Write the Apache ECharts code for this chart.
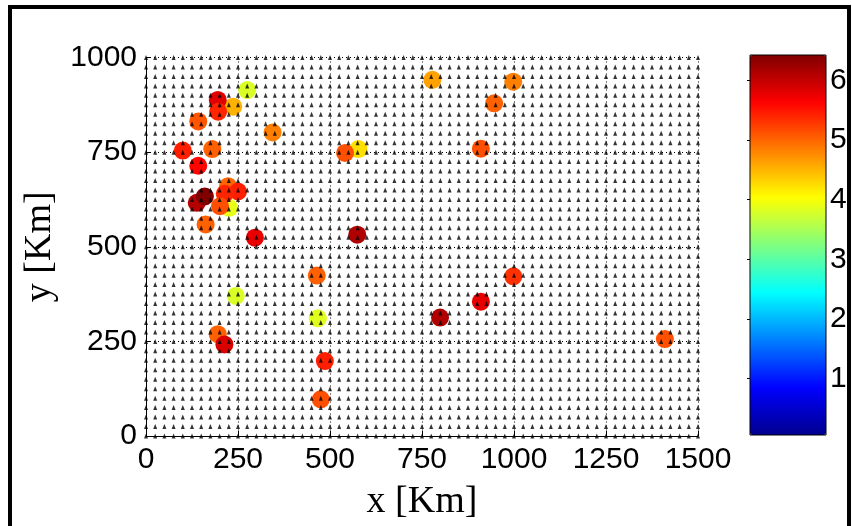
<!DOCTYPE html>
<html>
<head>
<meta charset="utf-8">
<script src="https://cdn.jsdelivr.net/npm/echarts@6/dist/echarts.min.js"></script>
<style>
html,body{margin:0;padding:0;background:#fff;}
#chart{width:852px;height:526px;}
</style>
</head>
<body>
<div id="chart"></div>
<script>
// Station positions (km) and magnitudes
const siteX = [778, 998, 946, 910, 998, 910, 799, 1410, 275, 237, 195, 196, 142, 344, 100, 180, 142, 577, 541, 226, 223, 250, 214, 201, 138, 160, 162, 296, 574, 464, 244, 467, 195, 213, 486, 475];
const siteY = [941, 936, 879, 759, 422, 355, 313, 256, 914, 870, 888, 857, 831, 802, 754, 758, 714, 758, 748, 603, 660, 646, 640, 607, 616, 633, 559, 524, 532, 424, 370, 311, 269, 242, 198, 97];
const siteMag = [4.63, 4.84, 5.03, 5.14, 5.33, 5.78, 6.13, 5.14, 3.8, 4.53, 5.83, 5.4, 5.1, 4.84, 5.44, 5.03, 5.6, 4.23, 5.14, 3.89, 5.0, 5.44, 5.4, 5.14, 6.1, 6.43, 5.03, 5.78, 6.13, 5.03, 3.8, 3.85, 5.03, 5.88, 5.44, 5.14];

// Regular mesh of grid nodes (km)
const meshX = []; for (let v = 0; v <= 1500; v += 25) meshX.push(v);
const meshY = []; for (let v = 0; v <= 1000; v += 25) meshY.push(v);

// Axis ticks
const xTicks = [0, 250, 500, 750, 1000, 1250, 1500];
const yTicks = [0, 250, 500, 750, 1000];
const cbarTicks = [1, 2, 3, 4, 5, 6];
const cbarMin = 0.05, cbarMax = 6.43;

const jet = ['#00008F', '#0000FF', '#0080FF', '#00FFFF', '#80FF80', '#FFFF00', '#FF8000', '#FF0000', '#800000'];

const siteData = siteX.map((x, i) => [x, siteY[i], siteMag[i]]);
const meshData = [];
meshY.forEach(y => meshX.forEach(x => meshData.push([x, y])));

const chart = echarts.init(document.getElementById('chart'), null, {renderer: 'canvas'});
const plain = v => String(v);
const tickFont = {color: '#000', fontSize: 30, fontFamily: '"Liberation Sans", Arial, sans-serif', formatter: plain};
const nameFont = {color: '#000', fontSize: 38, fontFamily: '"Liberation Serif", "Times New Roman", serif'};

chart.setOption({
  animation: false,
  backgroundColor: '#fff',
  graphic: [{
    type: 'rect', z: 100, silent: true,
    shape: {x: 10, y: 7, width: 839, height: 600},
    style: {fill: null, stroke: '#000', lineWidth: 4}
  }],
  grid: [
    {left: 146, top: 57.5, width: 552, height: 379.5},
    {left: 750, top: 55, width: 76, height: 380, show: true, borderColor: '#000', borderWidth: 1, backgroundColor: 'transparent', z: 10}
  ],
  xAxis: [
    {
      gridIndex: 0, type: 'value', min: xTicks[0], max: xTicks[xTicks.length - 1], interval: 250,
      axisLine: {show: true, onZero: false, lineStyle: {color: '#000', width: 1}},
      axisTick: {show: true, inside: true, length: 5, lineStyle: {color: '#000'}},
      axisLabel: Object.assign({margin: 9}, tickFont),
      splitLine: {show: true, lineStyle: {color: '#000', type: [1, 3], width: 1}},
      name: 'x [Km]', nameLocation: 'middle', nameGap: 47, nameTextStyle: nameFont
    },
    {gridIndex: 1, type: 'value', min: 0, max: 1, show: false}
  ],
  yAxis: [
    {
      gridIndex: 0, type: 'value', min: yTicks[0], max: yTicks[yTicks.length - 1], interval: 250,
      axisLine: {show: true, onZero: false, lineStyle: {color: '#000', width: 1}},
      axisTick: {show: true, inside: true, length: 5, lineStyle: {color: '#000'}},
      axisLabel: Object.assign({margin: 9}, tickFont),
      splitLine: {show: true, lineStyle: {color: '#000', type: [1, 3], width: 1}},
      name: 'y [Km]', nameLocation: 'middle', nameGap: 87, nameTextStyle: nameFont
    },
    {
      gridIndex: 1, type: 'value', position: 'right', min: cbarMin, max: cbarMax,
      axisLine: {show: false},
      axisTick: {show: true, inside: true, length: 3, customValues: cbarTicks, lineStyle: {color: '#000'}},
      axisLabel: Object.assign({margin: 4, customValues: cbarTicks}, tickFont),
      splitLine: {show: false}
    },
    {
      gridIndex: 1, type: 'value', position: 'left', min: cbarMin, max: cbarMax,
      axisLine: {show: false},
      axisTick: {show: true, inside: true, length: 3, customValues: cbarTicks, lineStyle: {color: '#000'}},
      axisLabel: {show: false},
      splitLine: {show: false}
    }
  ],
  visualMap: [{
    type: 'continuous', min: cbarMin, max: cbarMax, dimension: 2, seriesIndex: 0,
    inRange: {color: jet}, calculable: false, hoverLink: false,
    left: 750, top: 55, itemWidth: 76, itemHeight: 380, padding: 0,
    text: null, showLabel: false, z: 4
  }],
  series: [
    {
      type: 'scatter', xAxisIndex: 0, yAxisIndex: 0, data: siteData,
      symbol: 'circle', symbolSize: 18, z: 2, silent: true,
      itemStyle: {opacity: 1}
    },
    {
      type: 'scatter', xAxisIndex: 0, yAxisIndex: 0, data: meshData,
      symbol: 'triangle', symbolSize: [4, 5], z: 3, silent: true,
      itemStyle: {color: '#000'}
    }
  ]
});
</script>
</body>
</html>
